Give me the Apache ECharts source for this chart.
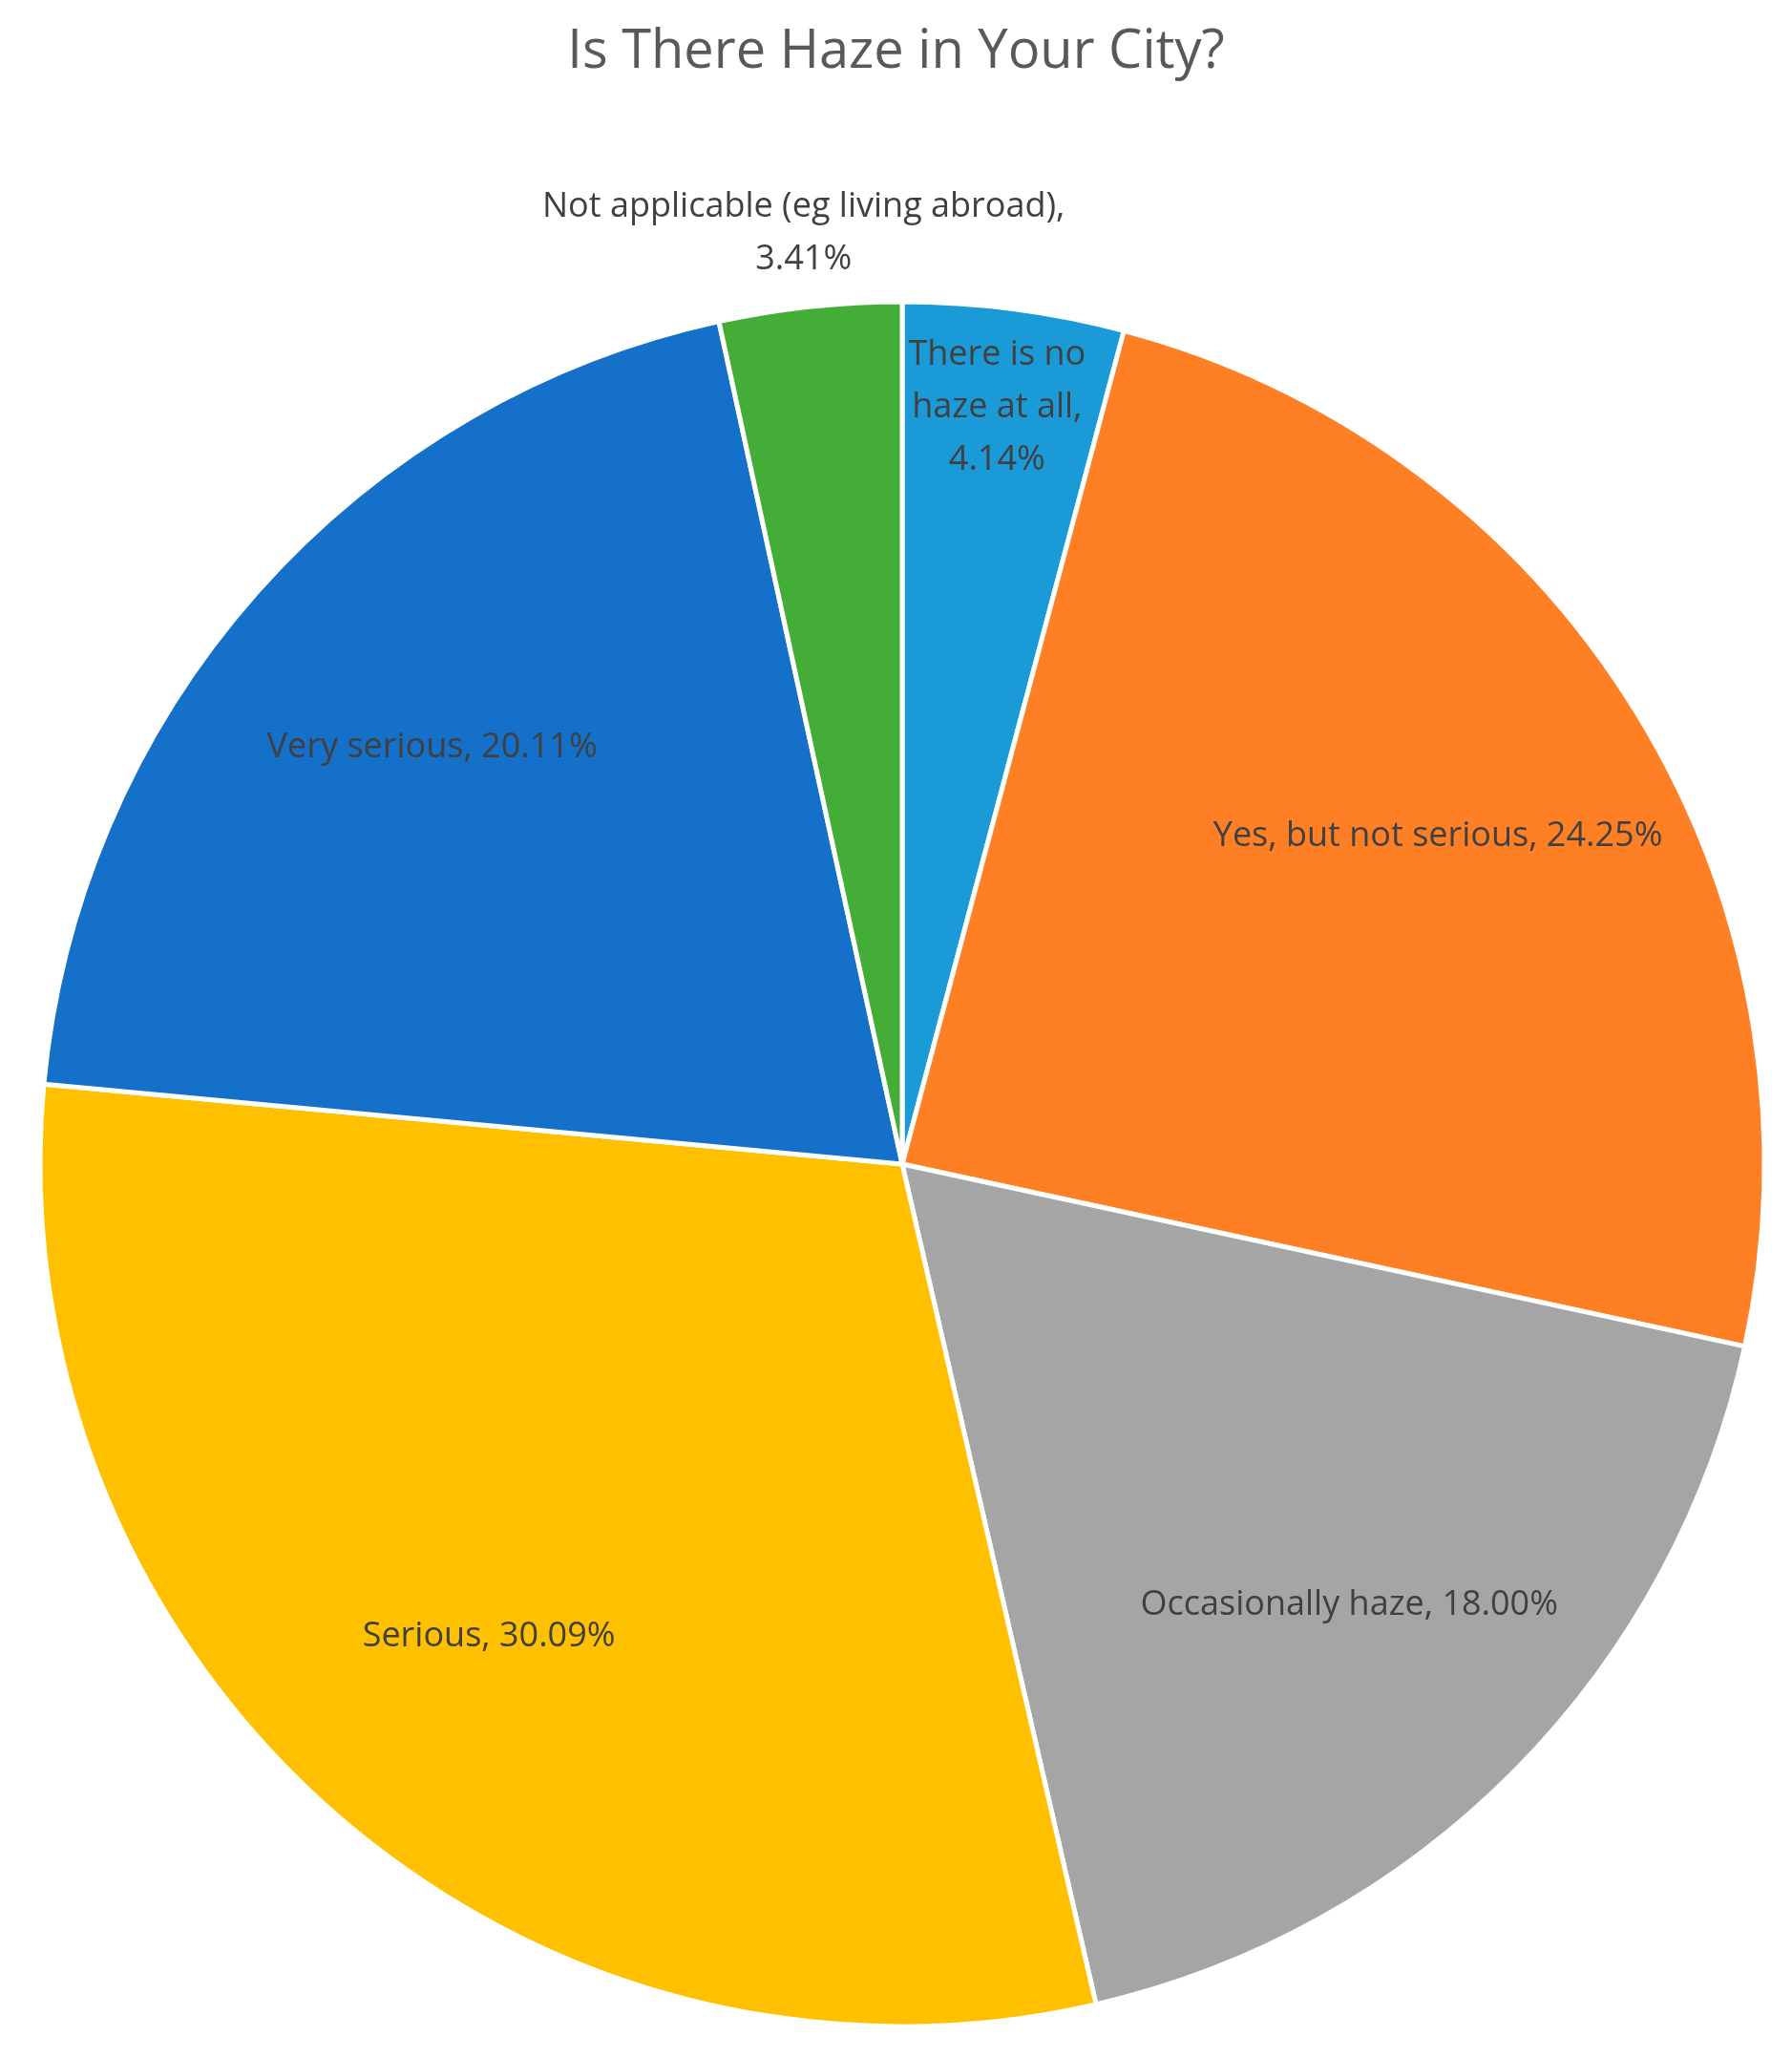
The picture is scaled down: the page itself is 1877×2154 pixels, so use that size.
<!DOCTYPE html>
<html>
<head>
<meta charset="utf-8">
<script src="https://cdn.jsdelivr.net/npm/echarts@6/dist/echarts.min.js"></script>
<style>
  html, body { margin: 0; padding: 0; background: #fff; }
  #chart { width: 1877px; height: 2154px; }
</style>
</head>
<body>
<div id="chart"></div>
<script>
// Slices clockwise from 12 o'clock
const categories = ['There is no haze at all', 'Yes, but not serious', 'Occasionally haze', 'Serious', 'Very serious', 'Not applicable (eg living abroad)'];
const shares = [4.14, 24.25, 18.00, 30.09, 20.11, 3.41];
const colors = ['#1a9ad6', '#fe7f24', '#a5a5a5', '#ffc000', '#1470c8', '#44ad37'];

const center = [945, 1219];
const radius = 903;

const chart = echarts.init(document.getElementById('chart'));

function labelText(name, value) {
    if (name === 'There is no haze at all') return 'There is no\nhaze at all,\n' + value.toFixed(2) + '%';
    if (name.startsWith('Not applicable')) return name + ',\n' + value.toFixed(2) + '%';
    return name + ', ' + value.toFixed(2) + '%';
}

// label offsets to mimic the spreadsheet's placement
const labelOffsets = {
    'There is no haze at all': [14, -140],
    'Not applicable (eg living abroad)': [-33, -321]
};

chart.setOption({
    title: {
        text: 'Is There Haze in Your City?',
        left: 'center',
        top: 22,
        textStyle: { fontFamily: 'Open Sans', fontSize: 56, fontWeight: 'normal', color: '#595959' }
    },
    series: [
        {
            type: 'pie',
            center: center,
            radius: radius,
            startAngle: 90,
            clockwise: true,
            silent: true,
            label: { show: false },
            labelLine: { show: false },
            itemStyle: { borderColor: '#fff', borderWidth: 5 },
            data: categories.map((c, i) => ({ name: c, value: shares[i], itemStyle: { color: colors[i] } }))
        },
        {
            // transparent ring used only to place labels at ~0.73 r
            type: 'pie',
            center: center,
            radius: [radius * 0.45, radius],
            startAngle: 90,
            clockwise: true,
            silent: true,
            itemStyle: { color: 'rgba(0,0,0,0)' },
            labelLine: { show: false },
            label: {
                show: true,
                position: 'inside',
                fontFamily: 'Open Sans',
                fontSize: 36,
                lineHeight: 55,
                color: '#404040',
                formatter: p => labelText(p.name, p.value)
            },
            data: categories.map((c, i) => ({
                name: c,
                value: shares[i],
                label: labelOffsets[c] ? { offset: labelOffsets[c] } : {}
            }))
        }
    ]
});
</script>
</body>
</html>
